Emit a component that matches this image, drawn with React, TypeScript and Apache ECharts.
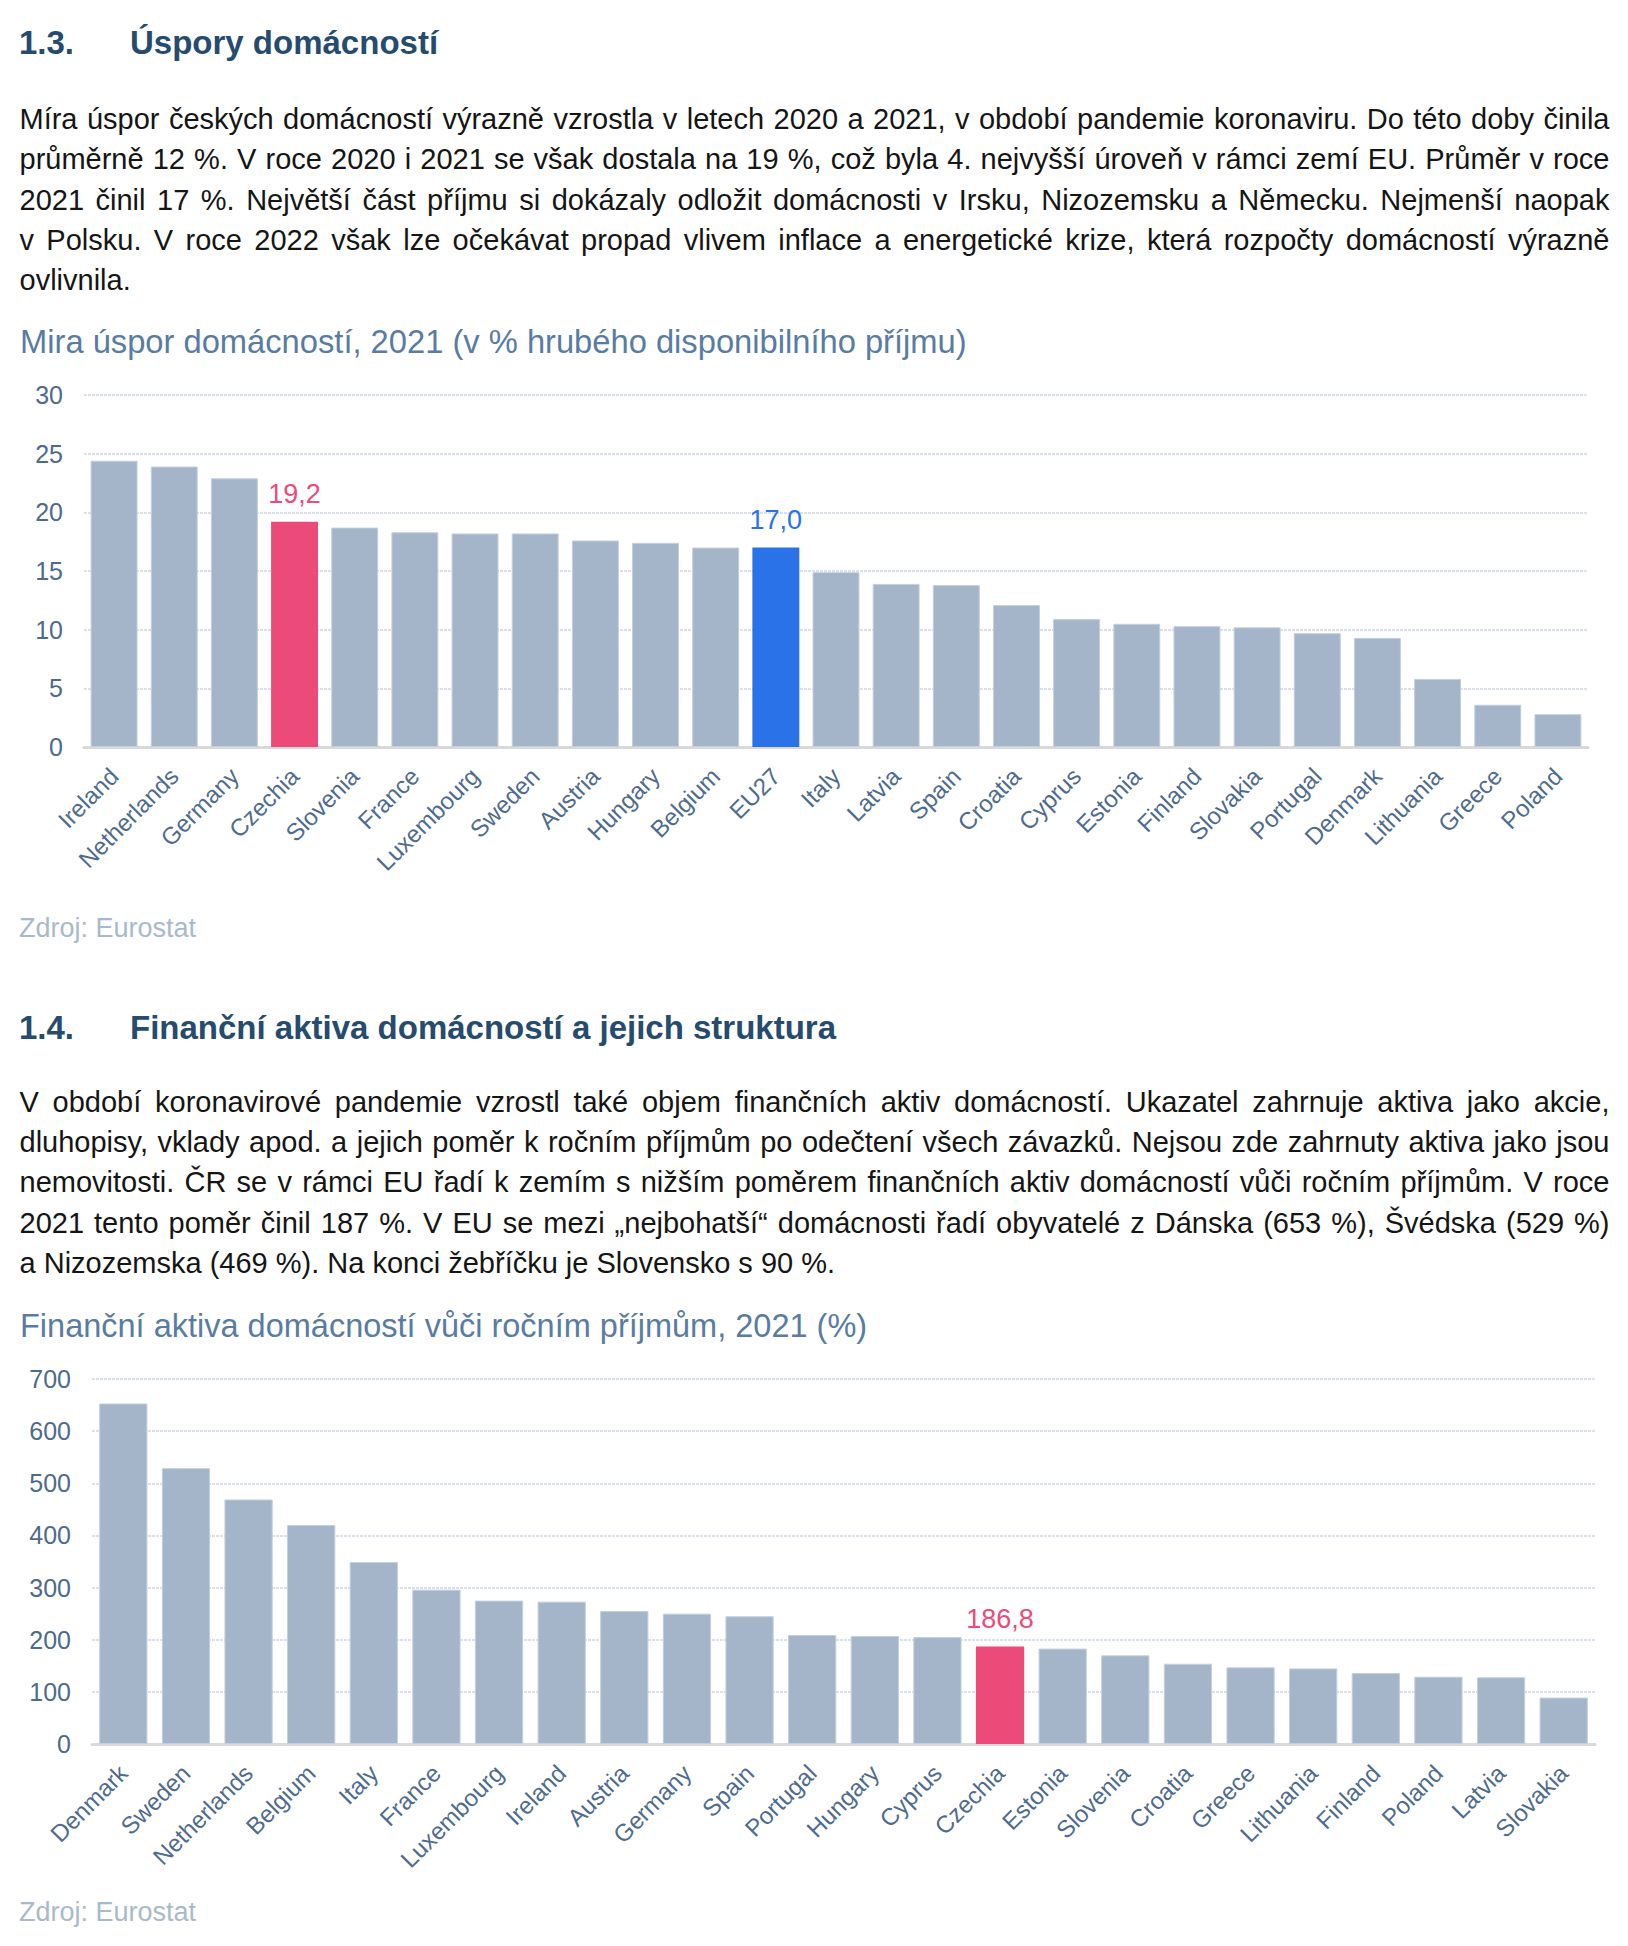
import React, { useEffect, useRef } from "react";
import * as echarts from "echarts";

const FONT = '"Liberation Sans", Arial, sans-serif';

// ---------- Chart 1 data ----------
const categories1 = [
  "Ireland", "Netherlands", "Germany", "Czechia", "Slovenia", "France", "Luxembourg",
  "Sweden", "Austria", "Hungary", "Belgium", "EU27", "Italy", "Latvia", "Spain",
  "Croatia", "Cyprus", "Estonia", "Finland", "Slovakia", "Portugal", "Denmark",
  "Lithuania", "Greece", "Poland",
];
const values1 = [
  24.4, 23.9, 22.9, 19.2, 18.7, 18.3, 18.2, 18.2, 17.6, 17.4, 17.0, 17.0, 14.9,
  13.9, 13.8, 12.1, 10.9, 10.5, 10.3, 10.2, 9.7, 9.3, 5.8, 3.6, 2.8,
];
const yTicks1 = { min: 0, max: 30, interval: 5 };

// ---------- Chart 2 data ----------
const categories2 = [
  "Denmark", "Sweden", "Netherlands", "Belgium", "Italy", "France", "Luxembourg",
  "Ireland", "Austria", "Germany", "Spain", "Portugal", "Hungary", "Cyprus",
  "Czechia", "Estonia", "Slovenia", "Croatia", "Greece", "Lithuania", "Finland",
  "Poland", "Latvia", "Slovakia",
];
const values2 = [
  653, 529, 469, 420, 349, 296, 275, 273, 255, 250, 245, 209, 207, 205, 186.8, 183,
  170, 154, 147, 145, 136, 129, 128, 89,
];
const yTicks2 = { min: 0, max: 700, interval: 100 };

// highlighted categories -> colour
const highlights1: Record<string, string> = { Czechia: "#ec4a79", EU27: "#2a72e8" };
const highlights2: Record<string, string> = { Czechia: "#ec4a79" };

const title1 = "Mira úspor domácností, 2021 (v % hrubého disponibilního příjmu)";
const title2 = "Finanční aktiva domácností vůči ročním příjmům, 2021 (%)";
const sourceText = "Zdroj: Eurostat";

const heading1 = ["1.3.", "Úspory domácností"];
const heading2 = ["1.4.", "Finanční aktiva domácností a jejich struktura"];

const body1 = [
  "Míra úspor českých domácností výrazně vzrostla v letech 2020 a 2021, v období pandemie koronaviru. Do této doby činila",
  "průměrně 12 %. V roce 2020 i 2021 se však dostala na 19 %, což byla 4. nejvyšší úroveň v rámci zemí EU. Průměr v roce",
  "2021 činil 17 %. Největší část příjmu si dokázaly odložit domácnosti v Irsku, Nizozemsku a Německu. Nejmenší naopak",
  "v Polsku. V roce 2022 však lze očekávat propad vlivem inflace a energetické krize, která rozpočty domácností výrazně",
  "ovlivnila.",
];
const body2 = [
  "V období koronavirové pandemie vzrostl také objem finančních aktiv domácností. Ukazatel zahrnuje aktiva jako akcie,",
  "dluhopisy, vklady apod. a jejich poměr k ročním příjmům po odečtení všech závazků. Nejsou zde zahrnuty aktiva jako jsou",
  "nemovitosti. ČR se v rámci EU řadí k zemím s nižším poměrem finančních aktiv domácností vůči ročním příjmům. V roce",
  "2021 tento poměr činil 187 %. V EU se mezi „nejbohatší“ domácnosti řadí obyvatelé z Dánska (653 %), Švédska (529 %)",
  "a Nizozemska (469 %). Na konci žebříčku je Slovensko s 90 %.",
];

const BAR_COLOR = "#a4b5c9";

function buildOption(cfg: {
  title: string;
  titleSize: number;
  titleY: number;
  sourceY: number;
  cats: string[];
  vals: number[];
  hl: Record<string, string>;
  ticks: { min: number; max: number; interval: number };
  grid: { left: number; top: number; width: number; height: number };
  gap: string;
}) {
  return {
    animation: false,
    textStyle: { fontFamily: FONT },
    graphic: [
      {
        type: "text",
        x: 20,
        y: cfg.titleY,
        style: {
          text: cfg.title,
          fontSize: cfg.titleSize,
          fontFamily: FONT,
          fill: "#5a7ba2",
          verticalAlign: "middle",
          align: "left",
        },
      },
      {
        type: "text",
        x: 19,
        y: cfg.sourceY,
        style: {
          text: sourceText,
          fontSize: 27,
          fontFamily: FONT,
          fill: "#a9b9cb",
          verticalAlign: "middle",
          align: "left",
        },
      },
    ],
    grid: { ...cfg.grid, containLabel: false },
    xAxis: {
      type: "category",
      data: cfg.cats,
      axisTick: { show: false },
      axisLine: { show: true, lineStyle: { color: "#d9d9d9", width: 3 } },
      axisLabel: {
        interval: 0,
        rotate: 45,
        margin: 25,
        fontSize: 24,
        fontFamily: FONT,
        color: "#4f6b8e",
      },
    },
    yAxis: {
      type: "value",
      min: cfg.ticks.min,
      max: cfg.ticks.max,
      interval: cfg.ticks.interval,
      axisLine: { show: false },
      axisTick: { show: false },
      axisLabel: { fontSize: 25, fontFamily: FONT, color: "#4e6a8c", margin: 21 },
      splitLine: {
        show: true,
        lineStyle: { color: "#dbe1ea", width: 2, type: [3, 1] },
      },
    },
    series: [
      {
        type: "bar",
        barCategoryGap: cfg.gap,
        data: cfg.vals.map((v, i) => {
          const c = cfg.hl[cfg.cats[i]];
          return {
            value: v,
            itemStyle: c
              ? { color: c }
              : { color: BAR_COLOR, borderColor: "#c3cfdc", borderWidth: 1 },
            label: c
              ? {
                  show: true,
                  position: "top",
                  distance: 14,
                  color: c,
                  fontSize: 27,
                  fontFamily: FONT,
                  formatter: (p: any) => Number(p.value).toFixed(1).replace(".", ","),
                }
              : { show: false },
          };
        }),
      },
    ],
  };
}

function Chart({ option, style }: { option: any; style: React.CSSProperties }) {
  const ref = useRef<HTMLDivElement>(null);
  useEffect(() => {
    if (!ref.current) return;
    const chart = echarts.init(ref.current, undefined, { renderer: "svg" });
    chart.setOption(option);
    return () => chart.dispose();
  }, [option]);
  return <div ref={ref} style={style} />;
}

function Paragraph({ lines, top }: { lines: string[]; top: number }) {
  return (
    <div
      style={{
        position: "absolute",
        left: 19.5,
        top,
        width: 1590,
        fontSize: 29,
        lineHeight: "40.3px",
        color: "#151515",
      }}
    >
      {lines.map((l, i) => (
        <div
          key={i}
          style={
            i < lines.length - 1
              ? { textAlign: "justify", textAlignLast: "justify" }
              : { textAlign: "left" }
          }
        >
          {l}
        </div>
      ))}
    </div>
  );
}

function Heading({ parts, top }: { parts: string[]; top: number }) {
  return (
    <div
      style={{
        position: "absolute",
        left: 19,
        top,
        fontSize: 33,
        fontWeight: "bold",
        lineHeight: "40px",
        color: "#264b6e",
        whiteSpace: "nowrap",
      }}
    >
      <span style={{ display: "inline-block", width: 111 }}>{parts[0]}</span>
      {parts[1]}
    </div>
  );
}

const option1 = buildOption({
  title: title1,
  titleSize: 32.7,
  titleY: 41.3,
  sourceY: 627.9,
  cats: categories1,
  vals: values1,
  hl: highlights1,
  ticks: yTicks1,
  grid: { left: 84, top: 95, width: 1504, height: 352 },
  gap: "22%",
});

const option2 = buildOption({
  title: title2,
  titleSize: 32.5,
  titleY: 35.6,
  sourceY: 622.3,
  cats: categories2,
  vals: values2,
  hl: highlights2,
  ticks: yTicks2,
  grid: { left: 92, top: 89, width: 1503, height: 365 },
  gap: "23%",
});

export default function App() {
  return (
    <div
      style={{
        position: "absolute",
        left: 0,
        top: 0,
        width: 1628,
        height: 1946,
        background: "#ffffff",
        fontFamily: FONT,
      }}
    >
      <Heading parts={heading1} top={23.1} />
      <Paragraph lines={body1} top={99.1} />
      <Chart option={option1} style={{ position: "absolute", left: 0, top: 300, width: 1628, height: 680 }} />
      <Heading parts={heading2} top={1007.6} />
      <Paragraph lines={body2} top={1081.8} />
      <Chart option={option2} style={{ position: "absolute", left: 0, top: 1290, width: 1628, height: 656 }} />
    </div>
  );
}
